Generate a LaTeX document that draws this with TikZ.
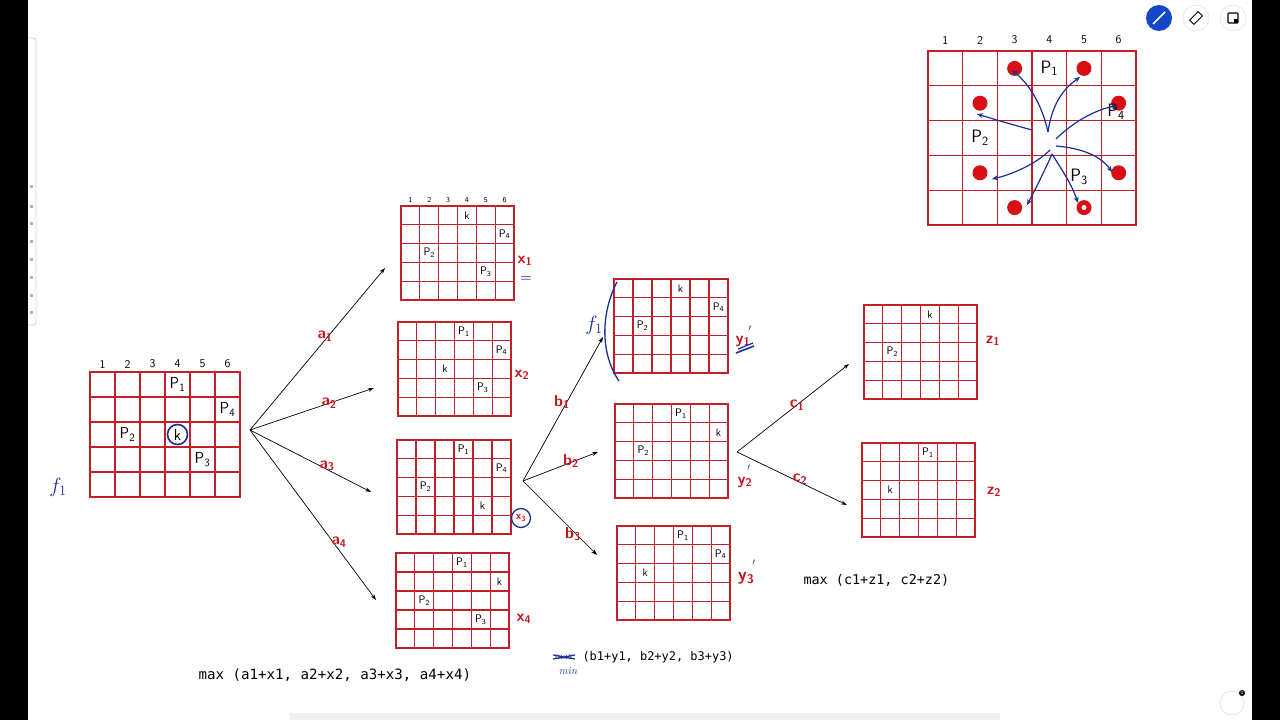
\documentclass[tikz,border=0pt]{standalone}
\usepackage{amsmath}
\usepackage{fontspec}
\setmonofont{DejaVu Sans Mono}
\usetikzlibrary{arrows.meta}
\definecolor{gred}{RGB}{196,30,42}
\definecolor{dotred}{RGB}{214,16,20}
\definecolor{ink}{RGB}{22,48,150}
\definecolor{lblred}{RGB}{200,20,30}
\definecolor{uiblue}{RGB}{20,70,200}
\tikzset{
 gridframe/.style={draw=gred, line width=1.3bp, inner sep=0, outer sep=0},
 gridline/.style={draw=gred, line width=1.1bp},
 cellbig/.style={font=\sffamily\fontsize{16}{16}\selectfont},
 cellhuge/.style={font=\sffamily\fontsize{18}{18}\selectfont},
 cellsmall/.style={font=\sffamily\fontsize{11}{11}\selectfont},
 colnum/.style={font=\sffamily\fontsize{12}{12}\selectfont},
 colnumsmall/.style={font=\sffamily\fontsize{7.5}{8}\selectfont},
 branch/.style={-{Stealth[length=6bp,width=4bp]}, line width=0.7bp, black},
 redlbl/.style={text=lblred, font=\sffamily\bfseries\fontsize{16}{16}\selectfont, inner sep=1bp},
 bluelbl/.style={text=ink, font=\fontsize{20}{20}\selectfont},
 formula/.style={font=\ttfamily\fontsize{13.5}{14}\selectfont, anchor=west},
 dot/.style={circle, fill=dotred, inner sep=0, minimum size=15bp},
 inkarrow/.style={draw=ink, line width=1.2bp, -{Stealth[length=6bp,width=5bp]}}
}
\newcommand\gridbox[5]{%
 \xdef\GXa{#2}\xdef\GYa{#3}\xdef\GXb{#4}\xdef\GYb{#5}%
 \pgfmathsetmacro\GW{#4-#2}\pgfmathsetmacro\GH{#5-#3}%
 \node[gridframe, minimum width=\GW bp, minimum height=\GH bp, anchor=north west] (#1) at (#2,#3) {};
 \foreach \i in {1,...,5}{\pgfmathsetmacro\xx{#2+\i*(#4-#2)/6}\draw[gridline] (\xx,#3) -- (\xx,#5);}
 \foreach \j in {1,...,4}{\pgfmathsetmacro\yy{#3+\j*(#5-#3)/5}\draw[gridline] (#2,\yy) -- (#4,\yy);}
}
\newcommand\gc[5]{%
 \pgfmathsetmacro\cx{\GXa+(#2-0.5)*(\GXb-\GXa)/6}%
 \pgfmathsetmacro\cy{\GYa+(#3-0.5)*(\GYb-\GYa)/5}%
 \node[#4, inner sep=0] (#1) at (\cx,\cy) {#5};
}
\newcommand\colnums[3]{%
 \foreach \k in {1,...,6}{\pgfmathsetmacro\cx{\GXa+(\k-0.5)*(\GXb-\GXa)/6}\node[#3] (#1-\k) at (\cx,#2) {\k};}
}
\newcommand\hl[2]{#1\textsubscript{#2}}
\begin{document}
\begin{tikzpicture}[x=1bp,y=-1bp]
\useasboundingbox (0,0) rectangle (1280,720);
\fill[white] (0,0) rectangle (1280,720);
% UI frame
\fill[black] (0,0) rectangle (28,720);
\fill[black] (1252,0) rectangle (1280,720);
\draw[gray!35, line width=0.8bp, rounded corners=3bp] (28,38) -- (36,38) -- (36,325) -- (28,325);
\foreach \yy in {185,205,222,240,258,276,294,311}{\fill[gray!60] (30,\yy) rectangle (33,\yy+3);}
\node[circle, fill=uiblue, minimum size=26bp, inner sep=0] (uipen) at (1159,18) {};
\draw[white, line width=1.6bp] (1153,24) -- (1165,12);
\node[circle, draw=gray!30, minimum size=26bp, inner sep=0] (uieraser) at (1196,18) {};
\draw[black, line width=1bp, rotate around={45:(1196,18)}] (1190,15) rectangle (1202,21);
\node[circle, draw=gray!30, minimum size=26bp, inner sep=0] (uinote) at (1233,18) {};
\draw[black, line width=1.2bp, rounded corners=1bp] (1228,13) rectangle (1238,23);
\fill[black] (1234,19) -- (1238,19) -- (1238,23) -- (1234,23) -- cycle;
\node[circle, draw=gray!40, minimum size=24bp, inner sep=0] (uiuser) at (1232,703) {};
\node[circle, fill=black, text=white, inner sep=0.6bp, font=\sffamily\fontsize{5}{5}\selectfont] (uibadge) at (1242,693) {0};
\fill[gray!12] (290,713) rectangle (1000,720);

% ---------- main grid ----------
\gridbox{g0}{90}{372}{240}{497}
\colnums{g0n}{364}{colnum}
\gc{g0p1}{4}{1}{cellbig}{P\textsubscript{1}}
\gc{g0p4}{6}{2}{cellbig}{P\textsubscript{4}}
\gc{g0p2}{2}{3}{cellbig}{P\textsubscript{2}}
\gc{g0k}{4}{3}{cellbig}{k}
\gc{g0p3}{5}{4}{cellbig}{P\textsubscript{3}}
\draw[ink, line width=1.6bp] (g0k) circle (10bp);
\node[bluelbl] (f1a) at (58,487) {$f_1$};

% ---------- top right grid ----------
\gridbox{gt}{928}{51}{1136}{225}
\colnums{gtn}{40}{colnum}
\gc{d1}{3}{1}{dot}{}
\gc{d2}{5}{1}{dot}{}
\gc{d3}{2}{2}{dot}{}
\gc{d4}{6}{2}{dot}{}
\gc{d5}{2}{4}{dot}{}
\gc{d6}{6}{4}{dot}{}
\gc{d7}{3}{5}{dot}{}
\gc{d8}{5}{5}{dot}{}
\fill[white] (d8) circle (2.5bp);
\gc{gtp1}{4}{1}{cellhuge}{P\textsubscript{1}}
\node[cellhuge, inner sep=0] (gtp4) at (1116,112) {P\textsubscript{4}};
\gc{gtp2}{2}{3}{cellhuge}{P\textsubscript{2}}
\node[cellhuge, inner sep=0] (gtp3) at (1079,177) {P\textsubscript{3}};
\coordinate (c0) at (1048,132);
\coordinate (c1) at (1032,130);
\coordinate (c2) at (1056,139);
\coordinate (c3) at (1056,146);
\coordinate (c4) at (1050,150);
\coordinate (c5) at (1052,154);
\coordinate (tA) at (1012,70);
\coordinate (tB) at (1080,77);
\coordinate (tC) at (977,114);
\coordinate (tD) at (1118,106);
\coordinate (tE) at (1112,172);
\coordinate (tF) at (992,179);
\coordinate (tG) at (1027,205);
\coordinate (tH) at (1078,203);
\draw[inkarrow] (c0) .. controls (1042,105) and (1030,85) .. (tA);
\draw[inkarrow] (c0) .. controls (1052,105) and (1062,90) .. (tB);
\draw[inkarrow] (c1) .. controls (1010,124) and (990,118) .. (tC);
\draw[inkarrow] (c2) .. controls (1075,120) and (1100,108) .. (tD);
\draw[inkarrow] (c3) .. controls (1080,148) and (1100,155) .. (tE);
\draw[inkarrow] (c4) .. controls (1035,165) and (1010,175) .. (tF);
\draw[inkarrow] (c5) .. controls (1045,170) and (1035,190) .. (tG);
\draw[inkarrow] (c5) .. controls (1062,170) and (1072,185) .. (tH);

% ---------- level 1 grids ----------
\gridbox{ga1}{401}{206}{514}{300}
\colnums{ga1n}{200}{colnumsmall}
\gc{ga1k}{4}{1}{cellsmall}{k}
\gc{ga1p4}{6}{2}{cellsmall}{P\textsubscript{4}}
\gc{ga1p2}{2}{3}{cellsmall}{P\textsubscript{2}}
\gc{ga1p3}{5}{4}{cellsmall}{P\textsubscript{3}}
\node[redlbl] (x1) at (525,261) {\hl{x}{1}};
\node[text=ink, font=\bfseries\fontsize{13}{13}\selectfont] (x1eq) at (526,279) {=};

\gridbox{ga2}{398}{322}{511}{416}
\gc{ga2p1}{4}{1}{cellsmall}{P\textsubscript{1}}
\gc{ga2p4}{6}{2}{cellsmall}{P\textsubscript{4}}
\gc{ga2k}{3}{3}{cellsmall}{k}
\gc{ga2p3}{5}{4}{cellsmall}{P\textsubscript{3}}
\node[redlbl] (x2) at (522,375) {\hl{x}{2}};

\gridbox{ga3}{397}{440}{511}{534}
\gc{ga3p1}{4}{1}{cellsmall}{P\textsubscript{1}}
\gc{ga3p4}{6}{2}{cellsmall}{P\textsubscript{4}}
\gc{ga3p2}{2}{3}{cellsmall}{P\textsubscript{2}}
\gc{ga3k}{5}{4}{cellsmall}{k}
\node[redlbl, font=\sffamily\bfseries\fontsize{11}{11}\selectfont] (x3) at (521,518) {\hl{x}{3}};
\draw[ink, line width=1.3bp] (x3) circle (9.5bp);

\gridbox{ga4}{396}{553}{509}{648}
\gc{ga4p1}{4}{1}{cellsmall}{P\textsubscript{1}}
\gc{ga4k}{6}{2}{cellsmall}{k}
\gc{ga4p2}{2}{3}{cellsmall}{P\textsubscript{2}}
\gc{ga4p3}{5}{4}{cellsmall}{P\textsubscript{3}}
\node[redlbl] (x4) at (524,619) {\hl{x}{4}};

\coordinate (o1) at (250,430);
\coordinate (ta1) at (385,268);
\coordinate (ta2) at (374,388);
\coordinate (ta3) at (371,492);
\coordinate (ta4) at (376,600);
\draw[branch] (o1) -- (ta1);
\draw[branch] (o1) -- (ta2);
\draw[branch] (o1) -- (ta3);
\draw[branch] (o1) -- (ta4);
\node[redlbl] (la1) at (325,336) {\hl{a}{1}};
\node[redlbl] (la2) at (329,403) {\hl{a}{2}};
\node[redlbl] (la3) at (327,466) {\hl{a}{3}};
\node[redlbl] (la4) at (339,542) {\hl{a}{4}};

% ---------- level 2 grids ----------
\gridbox{gb1}{614}{279}{728}{373}
\gc{gb1k}{4}{1}{cellsmall}{k}
\gc{gb1p4}{6}{2}{cellsmall}{P\textsubscript{4}}
\gc{gb1p2}{2}{3}{cellsmall}{P\textsubscript{2}}
\node[redlbl] (y1) at (743,341) {\hl{y}{1}};
\node[text=ink, font=\fontsize{14}{14}\selectfont] (y1p) at (750,331) {$'$};
\draw[ink, line width=1.6bp] (736,353) -- (754,346);
\draw[ink, line width=1.2bp] (738,349) -- (753,343);
\node[bluelbl] (f1b) at (594,325) {$f_1$};
\draw[ink, line width=1.3bp] (617,282) .. controls (600,315) and (601,355) .. (619,381);

\gridbox{gb2}{615}{404}{728}{498}
\gc{gb2p1}{4}{1}{cellsmall}{P\textsubscript{1}}
\gc{gb2k}{6}{2}{cellsmall}{k}
\gc{gb2p2}{2}{3}{cellsmall}{P\textsubscript{2}}
\node[redlbl] (y2) at (745,482) {\hl{y}{2}};
\node[text=ink, font=\fontsize{14}{14}\selectfont] (y2p) at (749,470) {$'$};

\gridbox{gb3}{617}{526}{730}{620}
\gc{gb3p1}{4}{1}{cellsmall}{P\textsubscript{1}}
\gc{gb3p4}{6}{2}{cellsmall}{P\textsubscript{4}}
\gc{gb3k}{2}{3}{cellsmall}{k}
\node[redlbl, font=\sffamily\bfseries\fontsize{18}{18}\selectfont] (y3) at (746,578) {\hl{y}{3}};
\node[text=ink, font=\fontsize{14}{14}\selectfont] (y3p) at (754,565) {$'$};

\coordinate (o2) at (523,481);
\coordinate (tb1) at (603,337);
\coordinate (tb2) at (598,452);
\coordinate (tb3) at (597,555);
\draw[branch] (o2) -- (tb1);
\draw[branch] (o2) -- (tb2);
\draw[branch] (o2) -- (tb3);
\node[redlbl] (lb1) at (562,402) {\hl{b}{1}};
\node[redlbl] (lb2) at (571,461) {\hl{b}{2}};
\node[redlbl] (lb3) at (573,534) {\hl{b}{3}};

% ---------- level 3 grids ----------
\gridbox{gc1}{864}{305}{977}{399}
\gc{gc1k}{4}{1}{cellsmall}{k}
\gc{gc1p2}{2}{3}{cellsmall}{P\textsubscript{2}}
\node[redlbl] (z1) at (993,341) {\hl{z}{1}};

\gridbox{gc2}{862}{443}{975}{537}
\gc{gc2p1}{4}{1}{cellsmall}{P\textsubscript{1}}
\gc{gc2k}{2}{3}{cellsmall}{k}
\node[redlbl] (z2) at (994,492) {\hl{z}{2}};

\coordinate (o3) at (737,452);
\coordinate (tc1) at (849,364);
\coordinate (tc2) at (847,505);
\draw[branch] (o3) -- (tc1);
\draw[branch] (o3) -- (tc2);
\node[redlbl] (lc1) at (797,405) {\hl{c}{1}};
\node[redlbl] (lc2) at (800,479) {\hl{c}{2}};

% ---------- formulas ----------
\node[formula, font=\ttfamily\fontsize{14.2}{15}\selectfont] (fa) at (195,675) {max (a1+x1, a2+x2, a3+x3, a4+x4)};
\node[formula, font=\ttfamily\fontsize{12}{13}\selectfont] (fb) at (579,657) {(b1+y1, b2+y2, b3+y3)};
\node[text=ink, font=\fontsize{10}{10}\selectfont, inner sep=0] (fbmax) at (564,657) {max};
\draw[ink, line width=1.2bp] (553,655) -- (575,659);
\draw[ink, line width=1.2bp] (553,659) -- (575,655);
\node[text=ink, font=\itshape\fontsize{11}{11}\selectfont, inner sep=0] (fbmin) at (568,671) {min};
\node[formula] (fc) at (800,580) {max (c1+z1, c2+z2)};
\end{tikzpicture}
\end{document}
